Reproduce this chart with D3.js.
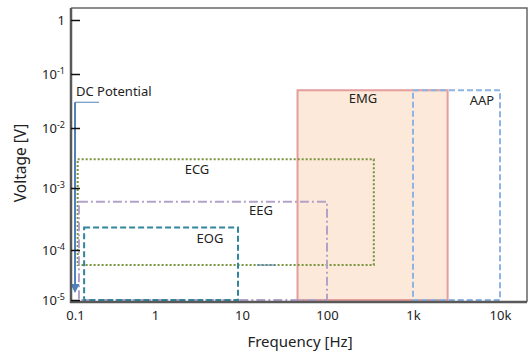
<!DOCTYPE html>
<html>
<head>
<meta charset="utf-8">
<script src="https://cdn.jsdelivr.net/npm/d3@7"></script>
<style>
  body { margin: 0; background: #fff; }
  text { font-family: "Noto Sans", sans-serif; fill: #222; }
</style>
</head>
<body>
<div id="chart"></div>
<script>
// Data (frequency in Hz, voltage in V)
var freqTicks = [0.1, 1, 10, 100, 1000, 10000];
var freqTickLabels = ["0.1", "1", "10", "100", "1k", "10k"];
var voltTicks = [1e-5, 1e-4, 1e-3, 1e-2, 1e-1, 1];
var voltTickLabels = [["10", "-5"], ["10", "-4"], ["10", "-3"], ["10", "-2"], ["10", "-1"], ["1", ""]];

var signalNames = ["EMG", "ECG", "EEG", "EOG", "AAP"];
var freqLow  = [45, 0.108, 0.112, 0.13, 1000];
var freqHigh = [2500, 350, 100, 9, 10000];
var voltLow  = [1e-5, 5e-5, 1e-5, 1e-5, 1e-5];
var voltHigh = [0.05, 3e-3, 6e-4, 2.3e-4, 0.05];

var dcFreq = [0.1, 0.2];
var dcVolt = [0.03, 1.5e-5];
var markFreq = [15, 25];
var markVolt = 5e-5;

// layout
var W = 528, H = 353;
var frame = {left: 71, top: 8, right: 527, bottom: 302};

// hand-drawn axes are a little uneven, so piecewise log scales
var x = d3.scaleLog()
  .domain(freqTicks)
  .range([75, 155, 242, 327, 413, 500]);
var y = d3.scaleLog()
  .domain(voltTicks)
  .range([300, 250, 188, 128, 74, 20]);

var svg = d3.select("#chart").append("svg")
  .attr("width", W)
  .attr("height", H);

// styles per signal
var styles = {
  EMG: {stroke: "#e39d9b", fill: "#fde9d9", dash: null, width: 2},
  ECG: {stroke: "#77933c", fill: "none", dash: "2,2", width: 2},
  EEG: {stroke: "#b3a2c7", fill: "none", dash: "9,3,2,3", width: 2},
  EOG: {stroke: "#31859c", fill: "none", dash: "6,3", width: 2},
  AAP: {stroke: "#8db4e2", fill: "none", dash: "6,3", width: 2}
};
var labelPos = {
  EMG: [363, 103], ECG: [197, 174], EEG: [261, 215], EOG: [210, 243], AAP: [482, 105]
};

var boxes = signalNames.map(function(n, i) {
  return {name: n, f0: freqLow[i], f1: freqHigh[i], v0: voltLow[i], v1: voltHigh[i]};
});

svg.selectAll("rect.box")
  .data(boxes)
  .enter().append("rect")
  .attr("class", "box")
  .attr("x", function(d) { return x(d.f0); })
  .attr("y", function(d) { return y(d.v1); })
  .attr("width", function(d) { return x(d.f1) - x(d.f0); })
  .attr("height", function(d) { return y(d.v0) - y(d.v1); })
  .style("fill", function(d) { return styles[d.name].fill; })
  .style("stroke", function(d) { return styles[d.name].stroke; })
  .style("stroke-width", function(d) { return styles[d.name].width; })
  .style("stroke-dasharray", function(d) { return styles[d.name].dash; });

svg.selectAll("text.name")
  .data(boxes)
  .enter().append("text")
  .attr("class", "name")
  .attr("x", function(d) { return labelPos[d.name][0]; })
  .attr("y", function(d) { return labelPos[d.name][1]; })
  .attr("text-anchor", "middle")
  .style("font-size", "13px")
  .text(function(d) { return d.name; });

// small marker line
svg.append("line")
  .attr("x1", x(markFreq[0])).attr("x2", x(markFreq[1]))
  .attr("y1", y(markVolt)).attr("y2", y(markVolt))
  .style("stroke", "#4f81bd").style("stroke-width", 1);

// DC potential arrow
svg.append("defs").append("marker")
  .attr("id", "arr")
  .attr("viewBox", "0 0 10 10")
  .attr("refX", 8).attr("refY", 5)
  .attr("markerWidth", 5).attr("markerHeight", 4.5)
  .attr("orient", "auto")
  .append("path").attr("d", "M0,0L10,5L0,10Z").style("fill", "#4f81bd");

svg.append("line")
  .attr("x1", x(dcFreq[0])).attr("x2", x(dcFreq[1]))
  .attr("y1", y(dcVolt[0])).attr("y2", y(dcVolt[0]))
  .style("stroke", "#4f81bd").style("stroke-width", 1);
svg.append("line")
  .attr("x1", x(dcFreq[0])).attr("x2", x(dcFreq[0]))
  .attr("y1", y(dcVolt[0])).attr("y2", y(dcVolt[1]))
  .style("stroke", "#4f81bd").style("stroke-width", 2)
  .attr("marker-end", "url(#arr)");
svg.append("text")
  .attr("x", 76).attr("y", 96)
  .style("font-size", "13px")
  .text("DC Potential");

// frame
svg.append("path")
  .attr("d", "M" + frame.left + "," + frame.top + "H" + frame.right + "V" + frame.bottom)
  .style("fill", "none").style("stroke", "#666").style("stroke-width", 1.5);
svg.append("path")
  .attr("d", "M" + frame.left + "," + frame.top + "V" + frame.bottom + "H" + frame.right)
  .style("fill", "none").style("stroke", "#595959").style("stroke-width", 2.5);

// y axis
var yAxis = svg.append("g")
  .attr("transform", "translate(" + frame.left + ",0)")
  .call(d3.axisLeft(y).tickValues(voltTicks).tickSizeInner(-9).tickSizeOuter(0).tickPadding(6).tickFormat(""));
yAxis.select(".domain").remove();
yAxis.selectAll(".tick line").style("stroke", "#111").style("stroke-width", 1.5);
yAxis.selectAll(".tick text").each(function(d, i) {
  var t = d3.select(this).style("font-size", "13px").style("font-family", "Noto Sans").attr("fill", "#222");
  t.append("tspan").text(voltTickLabels[i][0]);
  if (voltTickLabels[i][1]) {
    t.append("tspan").attr("dy", "-0.5em").style("font-size", "9px").text(voltTickLabels[i][1]);
  }
});

// x axis
var xAxis = svg.append("g")
  .attr("transform", "translate(0," + frame.bottom + ")")
  .call(d3.axisBottom(x).tickValues(freqTicks).tickSize(0).tickPadding(9)
    .tickFormat(function(d, i) { return freqTickLabels[i]; }));
xAxis.select(".domain").remove();
xAxis.selectAll(".tick text").style("font-size", "13px").style("font-family", "Noto Sans").attr("fill", "#222");

// axis titles
svg.append("text")
  .attr("x", 300).attr("y", 347)
  .attr("text-anchor", "middle")
  .style("font-size", "15px")
  .text("Frequency [Hz]");
svg.append("text")
  .attr("transform", "translate(26,163) rotate(-90)")
  .attr("text-anchor", "middle")
  .style("font-size", "15.5px")
  .text("Voltage [V]");
</script>
</body>
</html>
